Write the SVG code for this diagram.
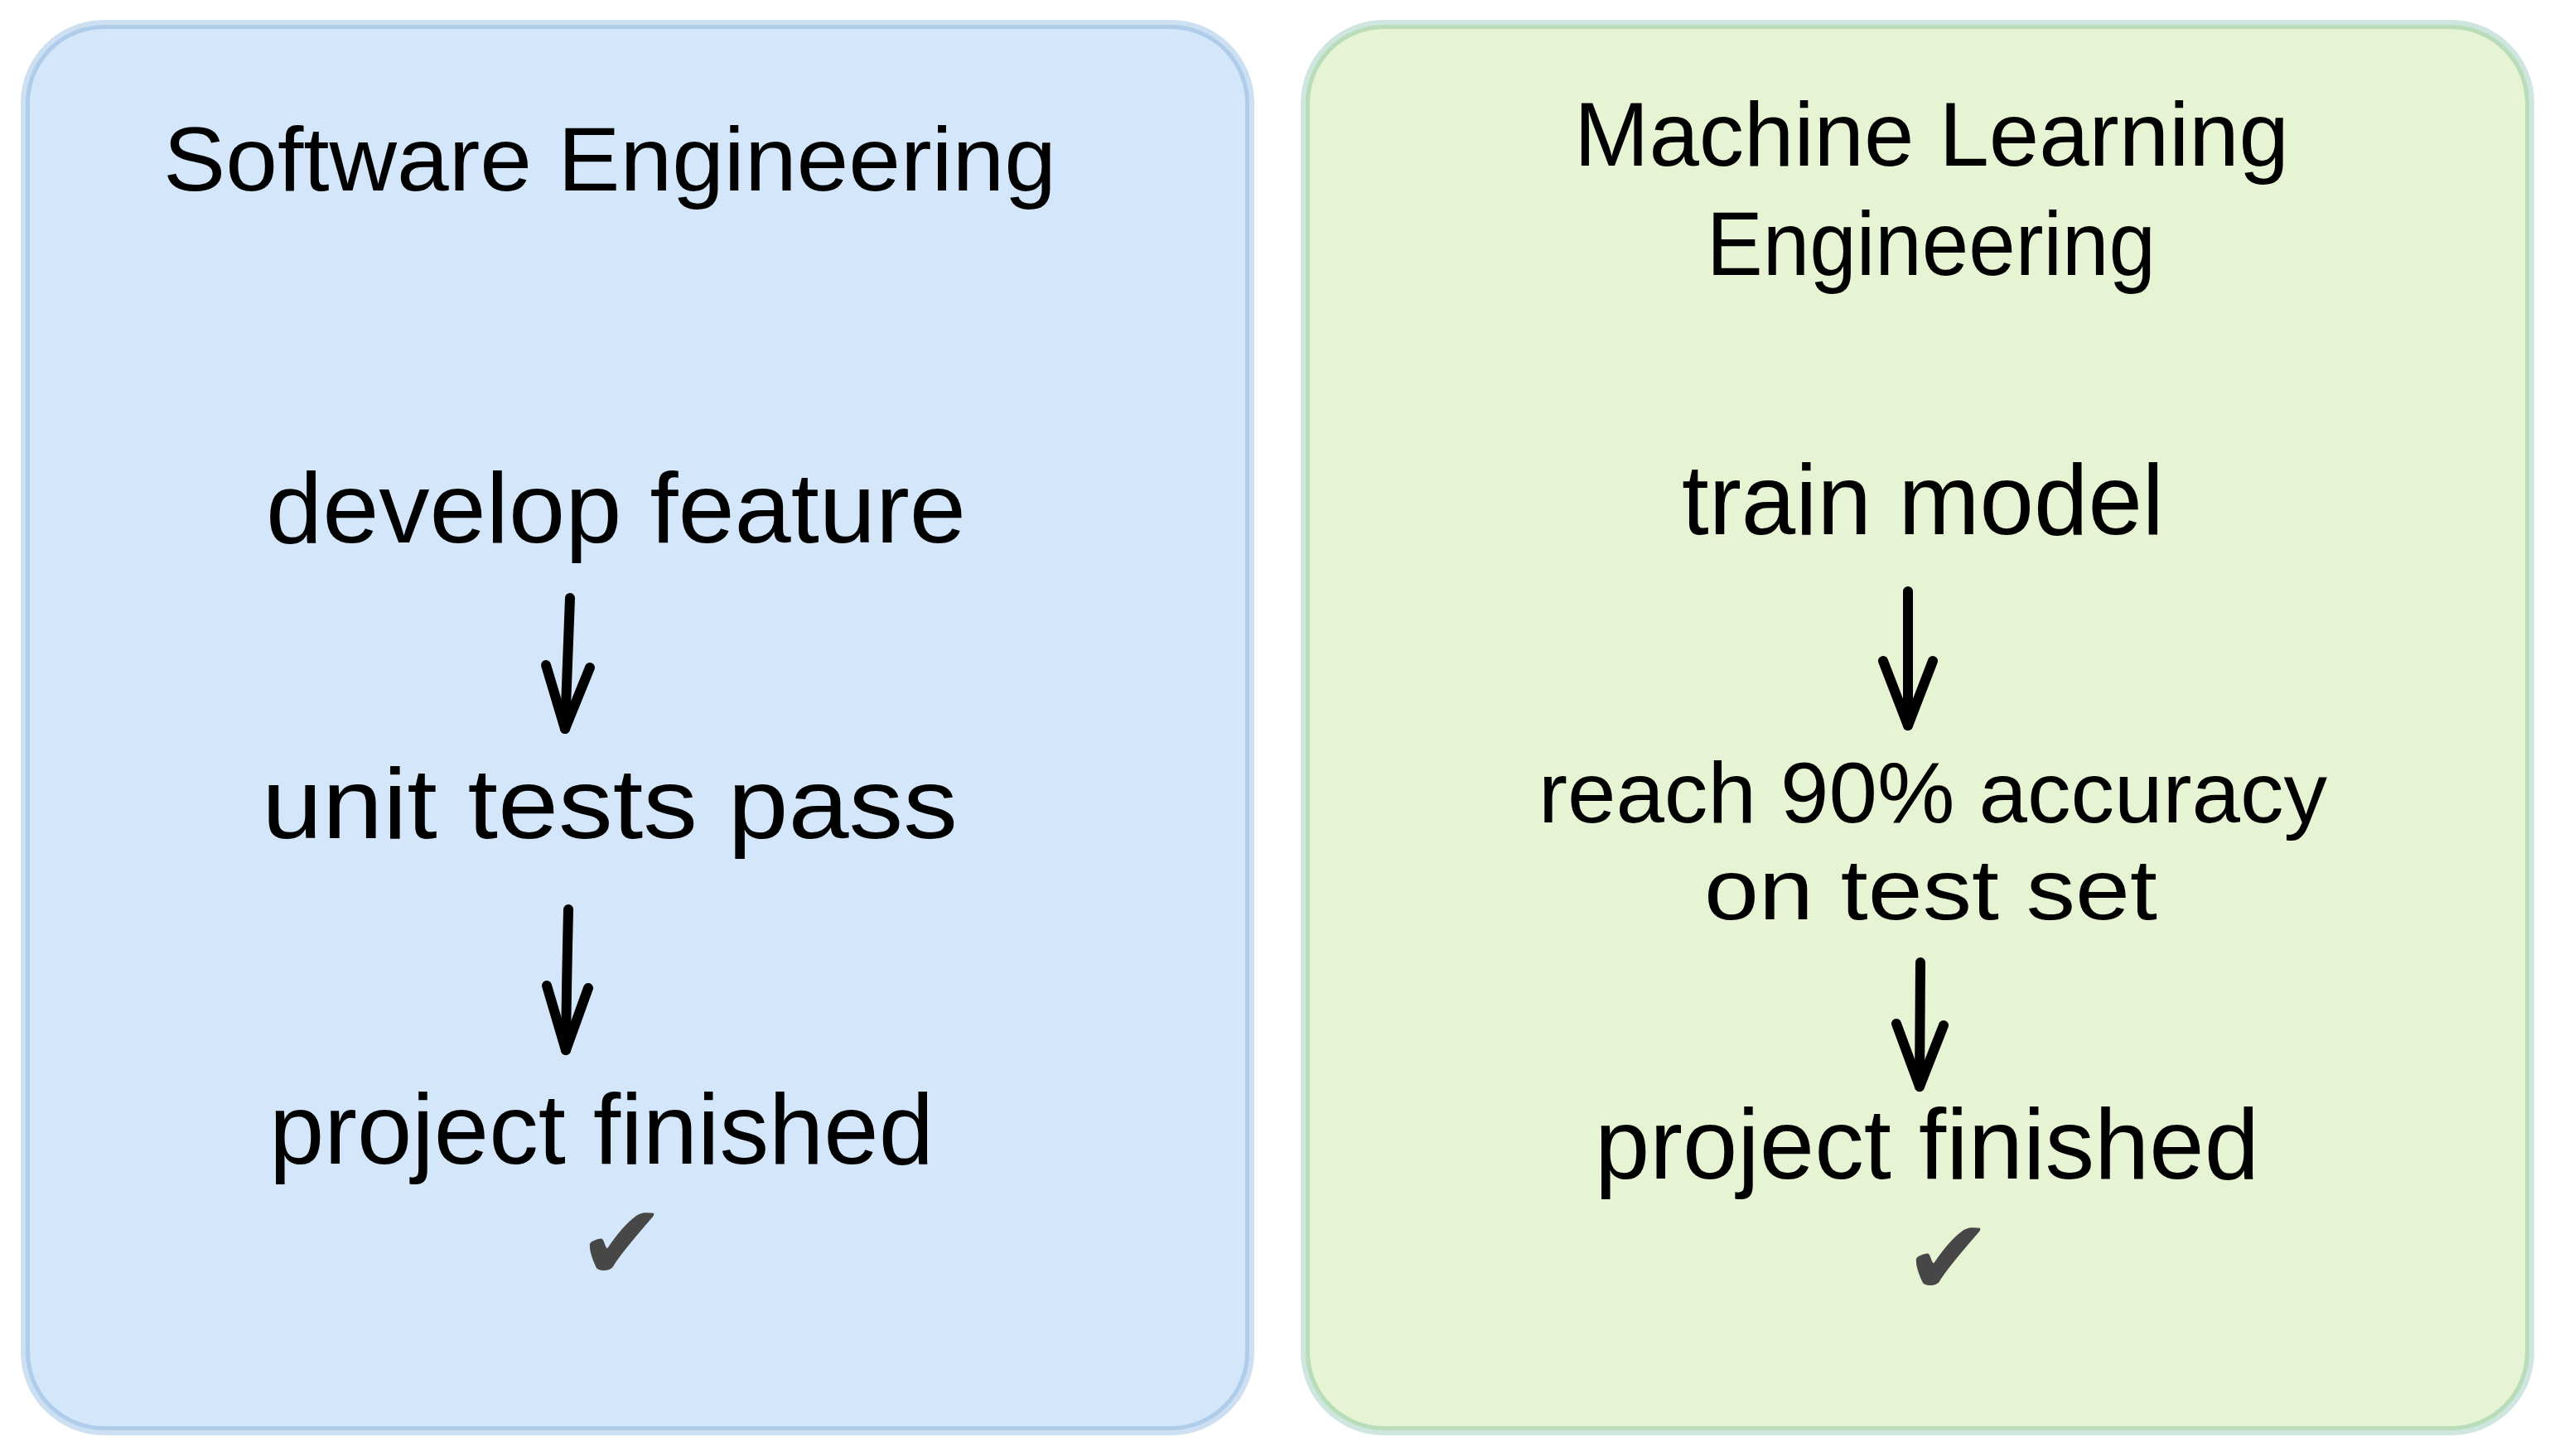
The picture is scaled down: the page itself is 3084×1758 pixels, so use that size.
<svg xmlns="http://www.w3.org/2000/svg" width="3084" height="1758" viewBox="0 0 3084 1758">
<style>
.t{font-family:"Liberation Sans","DejaVu Sans",sans-serif;fill:#000;}
.title{font-size:110px;}
.body{font-size:120px;}
.small{font-size:104px;}
.check{font-family:"DejaVu Sans",sans-serif;font-size:128px;fill:#474747;}
.arrow{fill:none;stroke:#000;stroke-width:12;stroke-linecap:round;stroke-linejoin:round;}
</style>
<rect width="3084" height="1758" fill="#ffffff"/>
<g id="panel-software-engineering">
<rect x="30.5" y="29.5" width="1478" height="1698" rx="95" fill="#d3e6fa" stroke="#cde0f1" stroke-width="11"/>
<rect x="33.5" y="32.5" width="1472" height="1692" rx="92" fill="none" stroke="#afcdeb" stroke-width="5"/>
</g>
<g id="panel-ml-engineering">
<rect x="1575.5" y="29.5" width="1478" height="1698" rx="95" fill="#e6f4d3" stroke="#cfe5df" stroke-width="11"/>
<rect x="1578.5" y="32.5" width="1472" height="1692" rx="92" fill="none" stroke="#b9dcb9" stroke-width="5"/>
</g>
<g id="title-se"><text class="t title" x="197" y="230" textLength="1078" lengthAdjust="spacingAndGlyphs">Software Engineering</text></g>
<g id="node-develop-feature"><text class="t body" x="321" y="655" textLength="845" lengthAdjust="spacingAndGlyphs">develop feature</text></g>
<g id="node-unit-tests-pass"><text class="t body" x="316" y="1012" textLength="840" lengthAdjust="spacingAndGlyphs">unit tests pass</text></g>
<g id="node-project-finished-se"><text class="t body" x="325" y="1405" textLength="802" lengthAdjust="spacingAndGlyphs">project finished</text>
<text class="check" x="697" y="1545">✔</text></g>
<g id="title-mle"><text class="t title" x="1900" y="200" textLength="863" lengthAdjust="spacingAndGlyphs">Machine Learning</text>
<text class="t title" x="2060" y="332" textLength="542" lengthAdjust="spacingAndGlyphs">Engineering</text></g>
<g id="node-train-model"><text class="t body" x="2030" y="645" textLength="582" lengthAdjust="spacingAndGlyphs">train model</text></g>
<g id="node-reach-accuracy"><text class="t small" x="1857" y="993" textLength="952" lengthAdjust="spacingAndGlyphs">reach 90% accuracy</text>
<text class="t small" x="2057" y="1110" textLength="547" lengthAdjust="spacingAndGlyphs">on test set</text></g>
<g id="node-project-finished-mle"><text class="t body" x="1925" y="1423" textLength="802" lengthAdjust="spacingAndGlyphs">project finished</text>
<text class="check" x="2298" y="1563">✔</text></g>
<g id="connectors">
<path class="arrow" d="M688 722 Q685 800 682 880"/>
<path class="arrow" d="M659 803 L682 880 L712 806"/>
<path class="arrow" d="M686 1098 Q684 1180 683 1268"/>
<path class="arrow" d="M660 1190 L683 1268 L710 1193"/>
<path class="arrow" d="M2303 714 L2303 876"/>
<path class="arrow" d="M2273 798 L2303 876 L2333 798"/>
<path class="arrow" d="M2318 1162 L2317 1312"/>
<path class="arrow" d="M2289 1236 L2317 1312 L2346 1238"/>
</g>
</svg>
